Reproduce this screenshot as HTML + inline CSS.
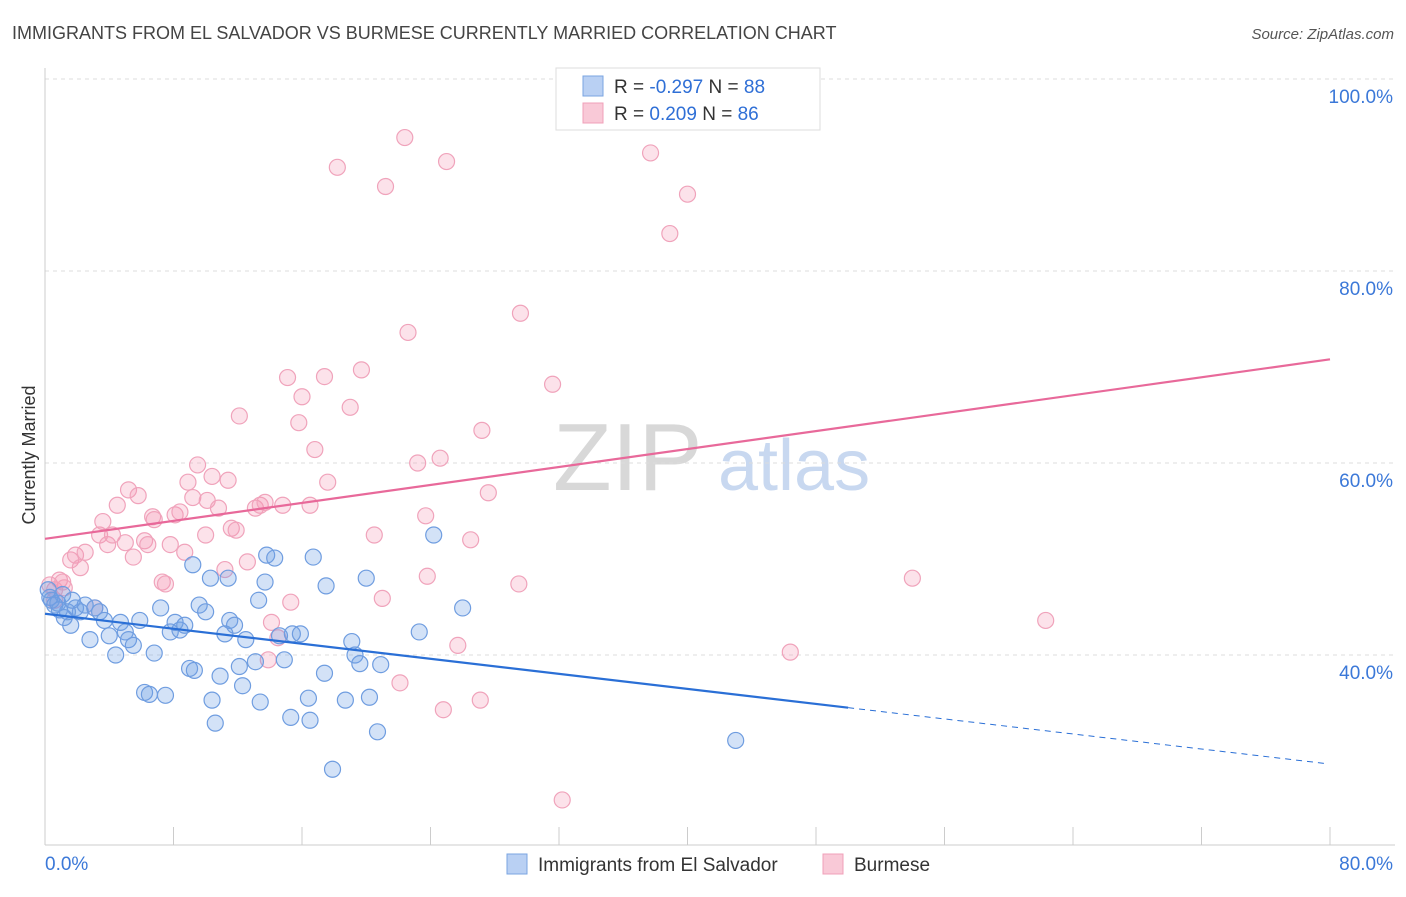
<!DOCTYPE html>
<html><head><meta charset="utf-8"><style>
body{margin:0;background:#fff;font-family:"Liberation Sans",sans-serif;}
svg text{font-family:"Liberation Sans",sans-serif;}
</style></head><body>
<svg id="chart" width="1406" height="892" xmlns="http://www.w3.org/2000/svg">
<text x="12" y="39" font-size="18" fill="#444">IMMIGRANTS FROM EL SALVADOR VS BURMESE CURRENTLY MARRIED CORRELATION CHART</text>
<text x="1394" y="39" font-size="15" fill="#555" font-style="italic" text-anchor="end">Source: ZipAtlas.com</text>
<g>
<text x="553" y="490" font-size="96" fill="#d8d8d8" font-family="Liberation Serif">ZIP</text>
<text x="718" y="490" font-size="72" fill="#c8d8f0">atlas</text>
</g>
<g id="grid"></g>
<g id="ticks"></g>
<g id="pinkPts"></g>
<g id="bluePts"></g>
<g id="lines"></g>
<text x="35" y="455" font-size="18" fill="#333" text-anchor="middle" transform="rotate(-90 35 455)">Currently Married</text>
<g>
<rect x="556" y="68" width="264" height="62" fill="#fff" stroke="#ddd"/>
<rect x="583" y="76" width="20" height="20" fill="#b9d0f3" stroke="#7aa4e2"/>
<rect x="583" y="103" width="20" height="20" fill="#f9c9d7" stroke="#f0a0b8"/>
<text x="614" y="93" font-size="19" fill="#333">R = <tspan fill="#2f6fd6">-0.297</tspan>   N = <tspan fill="#2f6fd6">88</tspan></text>
<text x="614" y="120" font-size="19" fill="#333">R =  <tspan fill="#2f6fd6">0.209</tspan>   N = <tspan fill="#2f6fd6">86</tspan></text>
</g>
<g>
<rect x="507" y="854" width="20" height="20" fill="#b9d0f3" stroke="#7aa4e2"/>
<text x="538" y="871" font-size="19" fill="#333">Immigrants from El Salvador</text>
<rect x="823" y="854" width="20" height="20" fill="#f9c9d7" stroke="#f0a0b8"/>
<text x="854" y="871" font-size="19" fill="#333">Burmese</text>
</g>
</svg>
<script>
const blueX=[0.3,0.6,0.9,1.2,1.6,1.9,2.2,2.5,2.8,3.1,3.4,3.7,4.0,4.4,4.7,5.0,5.2,5.5,5.9,6.2,6.5,6.8,7.2,7.5,7.8,8.1,8.4,8.7,9.0,9.2,9.3,9.6,10.0,10.3,10.4,10.6,10.9,11.2,11.4,11.5,11.8,12.1,12.3,12.5,13.1,13.3,13.4,13.7,13.8,14.3,14.6,14.9,15.3,15.4,15.9,16.4,16.5,16.7,17.4,17.5,17.9,18.7,19.1,19.3,19.6,20.0,20.2,20.7,20.9,23.3,24.2,26.0,43.0,0.2,0.4,0.8,1.1,1.4,1.7];
const blueY=[46.0,45.2,44.7,43.9,43.1,44.9,44.5,45.2,41.6,44.9,44.5,43.6,42.0,40.0,43.4,42.4,41.6,41.0,43.6,36.1,35.9,40.2,44.9,35.8,42.4,43.4,42.6,43.1,38.6,49.4,38.4,45.2,44.5,48.0,35.3,32.9,37.8,42.2,48.0,43.6,43.1,38.8,36.8,41.6,39.3,45.7,35.1,47.6,50.4,50.1,42.0,39.5,33.5,42.2,42.2,35.5,33.2,50.2,38.1,47.2,28.1,35.3,41.4,40.0,39.1,48.0,35.6,32.0,39.0,42.4,52.5,44.9,31.1,46.8,45.7,45.4,46.3,44.5,45.7];
const pinkX=[0.3,0.6,0.9,1.2,1.6,1.9,2.2,2.5,3.1,3.4,3.6,3.9,4.2,4.5,5.0,5.2,5.5,5.8,6.2,6.4,6.7,6.8,7.3,7.5,7.8,8.1,8.4,8.7,8.9,9.2,9.5,10.0,10.1,10.4,10.8,11.2,11.4,11.6,11.9,12.1,12.6,13.1,13.4,13.7,13.9,14.1,14.5,14.8,15.1,15.3,15.8,16.0,16.5,16.8,17.4,17.6,18.2,19.0,19.7,20.5,21.0,21.2,22.1,22.4,22.6,23.2,23.7,23.8,24.6,24.8,25.0,25.7,26.5,27.1,27.2,27.6,29.5,29.6,31.6,32.2,37.7,38.9,40.0,46.4,54.0,62.3,0.6,1.1];
const pinkY=[47.3,45.7,47.8,47.0,49.9,50.4,49.1,50.7,44.9,52.5,53.9,51.5,52.5,55.6,51.7,57.2,50.2,56.6,51.9,51.5,54.4,54.1,47.6,47.4,51.5,54.6,54.9,50.7,58.0,56.4,59.8,52.5,56.1,58.6,55.3,48.9,58.2,53.2,53.0,64.9,49.7,55.3,55.6,55.9,39.5,43.4,41.8,55.6,68.9,45.5,64.2,66.9,55.6,61.4,69.0,58.0,90.8,65.8,69.7,52.5,45.9,88.8,37.1,93.9,73.6,60.0,54.5,48.2,60.5,34.3,91.4,41.0,52.0,35.3,63.4,56.9,47.4,75.6,68.2,24.9,92.3,83.9,88.0,40.3,48.0,43.6,46.8,47.6];
const blueTrend=[44.3,28.7]; // at x=0 and x=79.7
const pinkTrend=[52.1,70.8]; // at x=0 and x=80
const yTicks=[40,60,80,100];
const yTickLabels=["40.0%","60.0%","80.0%","100.0%"];
const xTicks=[0,8,16,24,32,40,48,56,64,72,80];
const NS="http://www.w3.org/2000/svg";
const X=v=>45+v*16.0625;
const Y=v=>655-(v-40)*9.6;
function mk(tag,attrs,parent){const e=document.createElementNS(NS,tag);for(const k in attrs)e.setAttribute(k,attrs[k]);parent.appendChild(e);return e;}
const grid=document.getElementById('grid');
yTicks.forEach((t,i)=>{
 const l=mk('line',{x1:45,x2:1395,y1:Y(t),y2:Y(t),stroke:'#ddd','stroke-dasharray':'4,4'},grid);
 
 
 const tx=mk('text',{x:1393,y:Y(t)+24,'font-size':19,fill:'#3b78d8','text-anchor':'end'},grid);
 tx.textContent=yTickLabels[i];
 
 
});
const ax=document.getElementById('ticks');
const yl=mk('line',{x1:45,x2:45,y1:68,y2:845,stroke:'#ccc'},ax);


const xl=mk('line',{x1:45,x2:1395,y1:845,y2:845,stroke:'#ccc'},ax);


xTicks.forEach(t=>{
 const l=mk('line',{x1:X(t),x2:X(t),y1:827,y2:845,stroke:'#ccc'},ax);
 
 
});
const x0=mk('text',{x:45,y:870,'font-size':19,fill:'#3b78d8'},ax);x0.textContent='0.0%';


const x1=mk('text',{x:1393,y:870,'font-size':19,fill:'#3b78d8','text-anchor':'end'},ax);x1.textContent='80.0%';


function pts(xs,ys,g,fill,stroke,name){xs.forEach((v,i)=>{
 const c=mk('circle',{cx:X(v),cy:Y(ys[i]),r:8,fill:fill,stroke:stroke,'stroke-width':1.2},g);
 
 
});}
pts(pinkX,pinkY,document.getElementById('pinkPts'),'rgba(244,150,180,0.28)','#f0a3bb','burmese-point');
pts(blueX,blueY,document.getElementById('bluePts'),'rgba(110,160,230,0.3)','#6f9de0','el-salvador-point');
const lg=document.getElementById('lines');
const bEnd=79.7, bSolid=50;
const bAt=v=>blueTrend[0]+(blueTrend[1]-blueTrend[0])*v/bEnd;
const b1=mk('line',{x1:X(0),y1:Y(bAt(0)),x2:X(bSolid),y2:Y(bAt(bSolid)),stroke:'#2a6fd6','stroke-width':2.2},lg);


const b2=mk('line',{x1:X(bSolid),y1:Y(bAt(bSolid)),x2:X(bEnd),y2:Y(bAt(bEnd)),stroke:'#2a6fd6','stroke-width':1,'stroke-dasharray':'6,5'},lg);


const p1=mk('line',{x1:X(0),y1:Y(pinkTrend[0]),x2:X(80),y2:Y(pinkTrend[1]),stroke:'#e8699a','stroke-width':2.2},lg);


</script>
</body></html>
